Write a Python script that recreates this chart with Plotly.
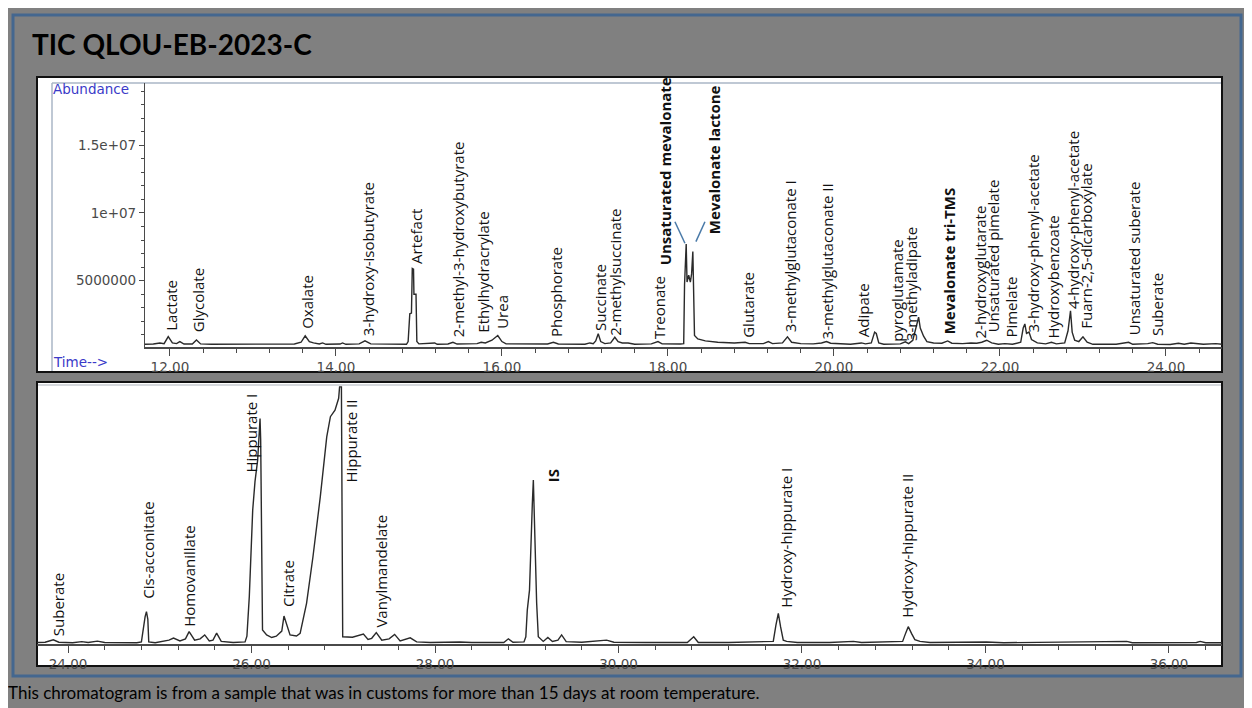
import plotly.graph_objects as go

# ---------------- DATA ----------------
# Top panel chromatogram (time in min, abundance in millions)
top_time = [11.70, 11.80, 11.88, 11.93, 11.98, 12.03, 12.08, 12.12, 12.17, 12.27, 12.32, 12.37, 12.50, 12.80,
            13.20, 13.50, 13.58, 13.63, 13.68, 13.73, 13.80, 13.84, 13.88, 14.05, 14.08, 14.12, 14.28, 14.35,
            14.42, 14.60, 14.85, 14.87, 14.89, 14.91, 14.92, 14.935, 14.94, 14.965, 14.975, 15.00, 15.19, 15.22,
            15.35, 15.41, 15.46, 15.70, 15.75, 15.80, 15.88, 15.95, 16.00, 16.05, 16.30, 16.55, 16.62, 16.68,
            17.00, 17.06, 17.10, 17.13, 17.16, 17.19, 17.24, 17.31, 17.36, 17.40, 17.45, 17.52, 17.60, 17.80,
            17.88, 17.93, 18.15, 18.19, 18.20, 18.22, 18.23, 18.25, 18.27, 18.285, 18.30, 18.31, 18.32, 18.36,
            18.45, 18.60, 18.80, 18.93, 18.98, 19.15, 19.21, 19.26, 19.38, 19.44, 19.49, 19.60, 19.75, 19.85,
            19.91, 19.96, 20.20, 20.33, 20.38, 20.45, 20.49, 20.51, 20.54, 20.60, 20.80, 20.86, 20.90, 20.95,
            21.00, 21.02, 21.04, 21.08, 21.12, 21.20, 21.30, 21.37, 21.42, 21.55, 21.65, 21.72, 21.78, 21.84,
            21.90, 21.98, 22.06, 22.15, 22.25, 22.28, 22.30, 22.32, 22.35, 22.38, 22.45, 22.55, 22.62, 22.68,
            22.78, 22.82, 22.85, 22.87, 22.90, 22.95, 23.00, 23.05, 23.12, 23.40, 23.55, 23.60, 23.78, 23.84,
            23.90, 24.05, 24.15, 24.22, 24.30, 24.38, 24.45, 24.60, 24.675]
top_abund = [0.30, 0.32, 0.40, 0.35, 0.87, 0.40, 0.35, 0.50, 0.32, 0.32, 0.62, 0.33, 0.30, 0.30,
             0.30, 0.32, 0.45, 0.93, 0.50, 0.40, 0.32, 0.40, 0.30, 0.32, 0.40, 0.30, 0.33, 0.55,
             0.33, 0.30, 0.30, 0.50, 2.55, 2.60, 5.90, 5.85, 4.00, 4.00, 0.50, 0.33, 0.40, 0.30,
             0.32, 0.45, 0.32, 0.35, 0.45, 0.40, 0.60, 0.95, 0.50, 0.33, 0.30, 0.32, 0.45, 0.32,
             0.30, 0.40, 0.35, 0.55, 1.08, 0.50, 0.35, 0.40, 0.82, 0.50, 0.40, 0.40, 0.30, 0.33,
             0.50, 0.33, 0.32, 0.35, 4.70, 7.70, 4.90, 5.40, 4.90, 5.50, 7.15, 3.50, 0.95, 0.70,
             0.55, 0.45, 0.40, 0.45, 0.35, 0.35, 0.50, 0.35, 0.40, 0.85, 0.45, 0.35, 0.33, 0.40,
             0.50, 0.38, 0.30, 0.40, 0.33, 0.40, 1.20, 1.10, 0.40, 0.30, 0.33, 0.48, 0.35, 0.60,
             1.90, 2.30, 1.50, 0.90, 0.50, 0.40, 0.38, 0.55, 0.38, 0.35, 0.40, 0.38, 0.45, 0.60,
             0.40, 0.30, 0.35, 0.30, 0.45, 1.50, 1.80, 1.10, 1.20, 0.65, 0.40, 0.33, 0.45, 0.33,
             0.40, 1.30, 2.78, 1.20, 0.60, 0.50, 0.85, 0.45, 0.30, 0.30, 0.45, 0.30, 0.35, 0.42,
             0.30, 0.28, 0.38, 0.30, 0.40, 0.35, 0.30, 0.35, 0.30]

# Bottom panel chromatogram (time in min, relative abundance)
bot_time = [23.66, 23.75, 23.84, 23.90, 24.05, 24.15, 24.22, 24.32, 24.40, 24.55, 24.75, 24.80, 24.82, 24.84,
            24.855, 24.87, 24.88, 24.95, 25.10, 25.15, 25.22, 25.28, 25.32, 25.38, 25.44, 25.49, 25.54, 25.58,
            25.62, 25.67, 25.80, 25.93, 25.95, 25.976, 26.013, 26.038, 26.067, 26.085, 26.093, 26.10, 26.11,
            26.12, 26.165, 26.22, 26.27, 26.33, 26.354, 26.38, 26.42, 26.49, 26.53, 26.60, 26.67, 26.75, 26.82,
            26.86, 26.91, 26.95, 26.96, 26.98, 26.99, 26.994, 27.10, 27.22, 27.27, 27.31, 27.36, 27.42, 27.50,
            27.56, 27.62, 27.73, 27.80, 27.95, 28.27, 28.40, 28.75, 28.80, 28.85, 28.97, 28.99, 29.006, 29.03,
            29.046, 29.061, 29.072, 29.09, 29.108, 29.126, 29.18, 29.23, 29.28, 29.34, 29.38, 29.43, 29.60,
            29.87, 29.95, 30.30, 30.75, 30.82, 30.87, 31.20, 31.50, 31.687, 31.716, 31.742, 31.767, 31.796,
            31.833, 31.95, 32.30, 32.56, 32.65, 33.097, 33.13, 33.158, 33.195, 33.23, 33.286, 33.395, 34.01,
            34.20, 35.54, 35.60, 36.30, 36.34, 36.40, 36.578]
bot_abund = [0.6, 0.7, 1.6, 0.7, 0.5, 0.9, 0.6, 1.1, 0.6, 0.5, 0.5, 0.8, 6.0, 10.5,
             12.5, 9.5, 0.8, 0.5, 1.5, 2.3, 1.2, 2.0, 4.8, 1.5, 2.0, 3.5, 1.2, 1.5,
             4.2, 1.0, 0.6, 0.8, 3.0, 18.3, 51.7, 62.7, 71.0, 80.0, 87.1, 78.8, 46.7,
             5.4, 3.5, 2.5, 3.0, 5.0, 10.8, 7.5, 3.5, 3.1, 4.1, 15.7, 33.7, 56.9, 80.0,
             87.8, 90.3, 94.9, 99.3, 99.3, 50.5, 2.8, 2.6, 3.8, 1.8, 2.2, 4.4, 1.5, 2.0,
             3.7, 1.2, 2.4, 0.8, 0.6, 0.8, 0.6, 0.6, 2.0, 0.7, 0.8, 2.8, 13.1, 20.8,
             42.7, 54.3, 63.3, 35.0, 15.8, 2.8, 1.0, 2.5, 1.0, 1.5, 3.5, 0.9, 0.7,
             1.5, 0.7, 0.6, 0.6, 2.8, 0.6, 0.6, 0.7, 1.0, 7.3, 11.8, 6.6, 1.5,
             1.0, 0.6, 0.6, 1.0, 0.6, 1.0, 4.2, 6.7, 4.0, 1.7, 1.0, 0.6, 0.8,
             0.5, 1.0, 0.5, 0.6, 1.0, 0.5, 0.5]

# Peak labels: (text, time, label base height, bold)
top_labels = [
    ("Lactate", 12.02, 1.23, False), ("Glycolate", 12.34, 1.13, False), ("Oxalate", 13.65, 1.36, False),
    ("3-hydroxy-isobutyrate", 14.38, 0.86, False), ("Artefact", 14.97, 6.16, False),
    ("2-methyl-3-hydroxybutyrate", 15.47, 0.74, False), ("Ethylhydracrylate", 15.77, 1.11, False),
    ("Urea", 16.00, 1.36, False), ("Phosphorate", 16.66, 0.74, False), ("Succinate", 17.18, 1.23, False),
    ("2-methylsuccinate", 17.37, 0.86, False), ("Treonate", 17.90, 0.62, False),
    ("Unsaturated mevalonate", 17.96, 6.03, True), ("Mevalonate lactone", 18.55, 8.37, True),
    ("Glutarate", 18.97, 0.74, False), ("3-methylglutaconate I", 19.47, 1.11, False),
    ("3-methylglutaconate II", 19.91, 0.62, False), ("Adipate", 20.36, 0.74, False),
    ("pyroglutamate", 20.76, 0.37, False), ("3-methyladipate", 20.92, 0.49, False),
    ("Mevalonate tri-TMS", 21.39, 0.99, True), ("2-hydroxyglutarate", 21.76, 0.62, False),
    ("Unsaturated pimelate", 21.91, 1.11, False), ("Pimelate", 22.13, 0.74, False),
    ("3-hydroxy-phenyl-acetate", 22.40, 1.11, False), ("Hydroxybenzoate", 22.64, 0.62, False),
    ("4-hydroxy-phenyl-acetate", 22.88, 2.83, False), ("Fuarn-2,5-dicarboxylate", 23.04, 1.36, False),
    ("Unsaturated suberate", 23.61, 0.86, False), ("Suberate", 23.89, 0.86, False),
]
bot_labels = [
    ("Suberate", 23.89, 2.8, False), ("Cis-acconitate", 24.875, 17.0, False),
    ("Homovanillate", 25.32, 6.1, False), ("Hippurate I", 25.99, 65.9, False),
    ("Citrate", 26.40, 13.8, False), ("Hippurate II", 27.08, 62.0, False),
    ("Vanylmandelate", 27.41, 6.1, False), ("IS", 29.29, 62.0, True),
    ("Hydroxy-hippurate I", 31.83, 13.8, False), ("Hydroxy-hippurate II", 33.15, 9.9, False),
]
# connector lines for the two mevalonate peaks: (t0, y0, t1, y1)
connectors = [(18.084, 9.35, 18.205, 7.76), (18.446, 9.35, 18.337, 7.88)]

top_ticks = [12, 14, 16, 18, 20, 22, 24]
bot_ticks = [24, 26, 28, 30, 32, 34, 36]
y_ticks = [5, 10, 15]
y_ticktext = ["5000000", "1e+07", "1.5e+07"]

TITLE = "TIC QLOU-EB-2023-C"
CAPTION = "This chromatogram is from a sample that was in customs for more than 15 days at room temperature."

# ---------------- LAYOUT HELPERS ----------------
# the page body adds an 8px margin, so the figure starts at (8, 8) of the window;
# it is made wide enough to reach the right edge of the window
OFF = 8
W, H = 1252, 708 - OFF
def px(x):
    return (x - OFF) / W
def py(y):
    return 1 - (y - OFF) / H

LINE = "#2a2a2a"
AXC = "#4a4a4a"
TICKFONT = dict(family="DejaVu Sans", size=13.5, color="#4a4a4a")
LABFONT = dict(family="Open Sans", size=15, color="#111111")

fig = go.Figure()
fig.add_trace(go.Scatter(x=top_time, y=top_abund, mode="lines", line=dict(color=LINE, width=1.4),
                         xaxis="x", yaxis="y", hoverinfo="skip", showlegend=False))
fig.add_trace(go.Scatter(x=bot_time, y=bot_abund, mode="lines", line=dict(color=LINE, width=1.4),
                         xaxis="x2", yaxis="y2", hoverinfo="skip", showlegend=False))

annotations = []
for txt, t, yv, b in top_labels:
    annotations.append(dict(x=t, y=yv, xref="x", yref="y", text=f"<b>{txt}</b>" if b else txt,
                            textangle=-90, showarrow=False, xanchor="center", yanchor="bottom",
                            font=LABFONT, borderpad=0))
for txt, t, yv, b in bot_labels:
    annotations.append(dict(x=t, y=yv, xref="x2", yref="y2", text=f"<b>{txt}</b>" if b else txt,
                            textangle=-90, showarrow=False, xanchor="center", yanchor="bottom",
                            font=LABFONT, borderpad=0))

annotations += [
    dict(x=px(30), y=py(44), xref="paper", yref="paper", text=f"<b>{TITLE}</b>", showarrow=False,
         xanchor="left", yanchor="middle", font=dict(family="Lato", size=28, color="#000000")),
    dict(x=px(6), y=py(692), xref="paper", yref="paper", text=CAPTION, showarrow=False,
         xanchor="left", yanchor="middle", font=dict(family="Lato", size=17, color="#000000")),
    dict(x=px(51), y=py(89), xref="paper", yref="paper", text="Abundance", showarrow=False,
         xanchor="left", yanchor="middle", font=dict(family="DejaVu Sans", size=13.5, color="#3a3ac8")),
    dict(x=px(51), y=py(362), xref="paper", yref="paper", text="Time-->", showarrow=False,
         xanchor="left", yanchor="middle", font=dict(family="DejaVu Sans", size=13.5, color="#3a3ac8")),
]

shapes = [
    # outer blue frame
    dict(type="rect", xref="paper", yref="paper", x0=px(13), x1=px(1241), y0=py(676), y1=py(15),
         line=dict(color="#44678f", width=3), fillcolor="rgba(0,0,0,0)", layer="below"),
    # panel boxes
    dict(type="rect", xref="paper", yref="paper", x0=px(37), x1=px(1222), y0=py(372), y1=py(77),
         line=dict(color="#111111", width=2), fillcolor="white", layer="below"),
    dict(type="rect", xref="paper", yref="paper", x0=px(37), x1=px(1222), y0=py(666), y1=py(382),
         line=dict(color="#111111", width=2), fillcolor="white", layer="below"),
    # inner light frame lines
    dict(type="line", xref="paper", yref="paper", x0=px(52), x1=px(1221), y0=py(83), y1=py(83),
         line=dict(color="#aab6c6", width=1.5), layer="below"),
    dict(type="line", xref="paper", yref="paper", x0=px(52), x1=px(52), y0=py(83), y1=py(371),
         line=dict(color="#aab6c6", width=1.5), layer="below"),
    dict(type="line", xref="paper", yref="paper", x0=px(38), x1=px(1221), y0=py(385), y1=py(385),
         line=dict(color="#c8ccd2", width=1.5), layer="below"),
]
for t0, y0, t1, y1 in connectors:
    shapes.append(dict(type="line", xref="x", yref="y", x0=t0, y0=y0, x1=t1, y1=y1,
                       line=dict(color="#4a7aa8", width=1.5)))

xcommon = dict(showline=True, linecolor=AXC, linewidth=1.5, showgrid=False, zeroline=False,
               ticks="outside", ticklen=7, tickcolor=AXC, tickwidth=1.3, tickfont=TICKFONT,
               minor=dict(ticks="outside", dtick=0.4, tick0=0, ticklen=4, tickcolor=AXC, tickwidth=1.2),
               fixedrange=True)

fig.update_layout(
    width=W, height=H, autosize=False,
    margin=dict(l=0, r=0, t=0, b=0),
    paper_bgcolor="#808080", plot_bgcolor="rgba(0,0,0,0)",
    showlegend=False,
    xaxis=dict(domain=[px(145), px(1222)], range=[11.70, 24.675], anchor="y",
               tickvals=top_ticks, ticktext=[f"{v:.2f}" for v in top_ticks], **xcommon),
    yaxis=dict(domain=[py(347), py(83)], range=[0.1, 19.6], anchor="x",
               showline=True, linecolor=AXC, linewidth=1.3, showgrid=False, zeroline=False,
               ticks="outside", ticklen=5, tickcolor=AXC, tickfont=TICKFONT,
               tickvals=y_ticks, ticktext=y_ticktext,
               minor=dict(ticks="outside", dtick=1, tick0=0, ticklen=3, tickcolor=AXC),
               fixedrange=True),
    xaxis2=dict(domain=[px(37), px(1222)], range=[23.662, 36.578], anchor="y2",
                tickvals=bot_ticks, ticktext=[f"{v:.2f}" for v in bot_ticks], **xcommon),
    yaxis2=dict(domain=[py(644), py(382)], range=[0, 101.2], anchor="x2", visible=False,
                fixedrange=True),
    annotations=annotations,
    shapes=shapes,
)

fig.write_html("out.html")
